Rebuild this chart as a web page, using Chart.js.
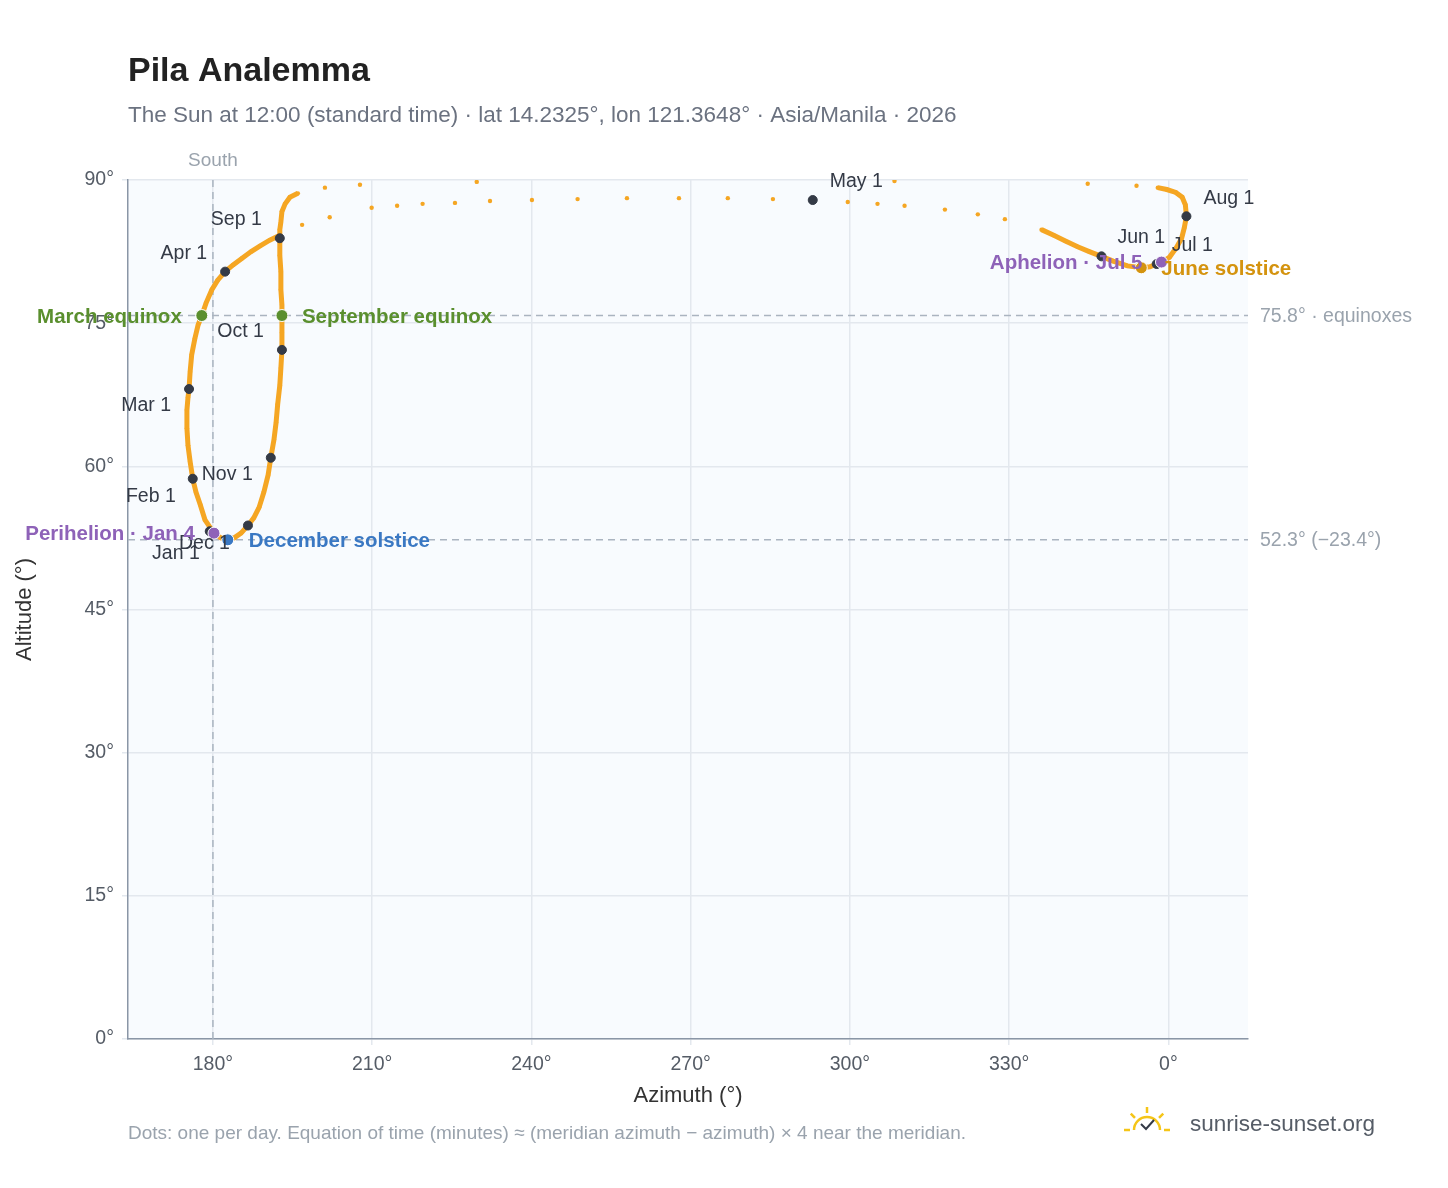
<!DOCTYPE html>
<html>
<head>
<meta charset="utf-8">
<script src="https://cdn.jsdelivr.net/npm/chart.js@4/dist/chart.umd.min.js"></script>
<style>
body { margin: 0; background: #fff; }
#wrap { width: 1448px; height: 1188px; }
</style>
</head>
<body>
<div id="wrap"><canvas id="chartAnalemma"></canvas></div>
<script>
// sun position at 12:00 (azimuth 360 = 0°)
var pathAz = [179.4, 180.2, 178.5, 177.6, 176.8, 176.2, 175.7, 175.3, 175.1, 175.1, 175.3, 175.5, 175.7, 176.0, 176.6, 177.2, 177.9, 178.7, 179.8, 180.9,
    182.3, 183.8, 185.5, 187.2, 188.9, 190.7, 192.6, 196.8, 202.0, 209.9, 214.7, 219.5, 225.6, 232.2, 240.1, 248.7, 258.0,
    267.8, 277.0, 285.5, 293.0, 299.6, 305.2, 310.3, 317.9, 324.1, 329.2, 336.1, 338.4, 340.6, 342.9, 345.1,
    347.4, 349.6, 352.3, 354.9, 356.5, 357.8, 358.7, 360.2, 361.5, 362.5, 363.0, 363.4, 363.2, 362.6, 361.4, 359.7, 358.0, 354.0, 344.8, 308.4,
    229.7, 207.7, 201.1, 196.0, 194.5, 193.6, 193.0, 192.8, 192.6, 192.6, 192.6, 192.8, 192.8, 193.0, 193.0, 193.0, 193.0, 192.8, 192.6,
    192.2, 191.9, 191.5, 190.9, 190.4, 189.6, 188.7, 187.7, 186.6, 185.3, 184.0, 182.8, 181.5, 180.4, 179.4];
var pathAlt = [53.2, 53.0, 54.4, 56.0, 57.3, 58.7, 60.5, 62.2, 64.0, 65.9, 67.2, 68.1, 69.9, 71.7, 73.4, 74.8, 75.8, 77.1, 78.5, 79.5,
    80.4, 81.1, 81.8, 82.5, 83.1, 83.7, 84.2, 85.3, 86.1, 87.1, 87.3, 87.5, 87.6, 87.8, 87.9, 88.0, 88.1,
    88.1, 88.1, 88.0, 87.9, 87.7, 87.5, 87.3, 86.9, 86.4, 85.9, 84.8, 84.2, 83.6, 83.0, 82.5,
    82.0, 81.5, 81.0, 80.8, 80.9, 81.2, 81.4, 81.9, 82.9, 83.9, 85.0, 86.2, 87.4, 88.2, 88.7, 89.0, 89.2, 89.4, 89.6, 89.9,
    89.8, 89.5, 89.2, 88.6, 88.2, 87.5, 86.7, 85.6, 84.8, 83.9, 82.1, 80.4, 78.5, 76.9, 75.8, 74.0, 72.2, 70.3, 68.5,
    66.5, 64.6, 62.8, 60.9, 59.1, 57.3, 55.7, 54.6, 53.8, 53.0, 52.5, 52.3, 52.5, 52.9, 53.2];

var markNames = ['Jan 1', 'Feb 1', 'Mar 1', 'Apr 1', 'May 1', 'Jun 1', 'Jul 1', 'Aug 1', 'Sep 1', 'Oct 1', 'Nov 1', 'Dec 1',
    'March equinox', 'June solstice', 'September equinox', 'December solstice', 'Perihelion · Jan 4', 'Aphelion · Jul 5'];
var markAz = [179.4, 176.2, 175.5, 182.3, 293.0, 347.4, 357.8, 363.4, 192.6, 193.0, 190.9, 186.6, 177.9, 354.9, 193.0, 182.8, 180.2, 358.7];
var markAlt = [53.2, 58.7, 68.1, 80.4, 87.9, 82.0, 81.2, 86.2, 83.9, 72.2, 60.9, 53.8, 75.8, 80.8, 75.8, 52.3, 53.0, 81.4];

var xTicks = [180, 210, 240, 270, 300, 330, 360];
var yTicks = [0, 15, 30, 45, 60, 75, 90];
var equinoxAlt = 75.8;
var decSolsticeAlt = 52.3;

// label style: colour, bold, dx, dy, align
var markStyle = [
    ['#343a46', false, -10, 22, 'right'], ['#343a46', false, -17, 18, 'right'], ['#343a46', false, -18, 17, 'right'],
    ['#343a46', false, -18, -18, 'right'], ['#343a46', false, 17, -18, 'left'], ['#343a46', false, 16, -19, 'left'],
    ['#343a46', false, 15, -18, 'left'], ['#343a46', false, 17, -18, 'left'], ['#343a46', false, -18, -19, 'right'],
    ['#343a46', false, -18, -18, 'right'], ['#343a46', false, -69, 17, 'left'], ['#343a46', false, -18, 18, 'right'],
    ['#5a8f2e', true, -20, 2, 'right'], ['#d4930f', true, 20, 2, 'left'], ['#5a8f2e', true, 20, 2, 'left'],
    ['#3a78c3', true, 21, 2, 'left'], ['#8e62b8', true, -19, 1, 'right'], ['#8e62b8', true, -19, 1, 'right']
];

var orange = '#f5a623';
var FONT = 'Liberation Sans, Arial, sans-serif';

function drawAnalemma() {
    var ctx = document.getElementById('chartAnalemma');
    var pathPts = pathAz.map(function (a, i) { return {x: a, y: pathAlt[i]}; });
    var markPts = markAz.map(function (a, i) { return {x: a, y: markAlt[i]}; });
    var markColors = markStyle.map(function (s, i) { return i < 12 ? '#343a46' : s[0]; });

    var extras = {
        id: 'extras',
        beforeDatasetsDraw: function (chart) {
            var c = chart.ctx, a = chart.chartArea, xs = chart.scales.x, ys = chart.scales.y;
            c.save();
            c.setLineDash([7, 5]);
            c.strokeStyle = '#aab4c0';
            c.lineWidth = 1.5;
            [equinoxAlt, decSolsticeAlt].forEach(function (v) {
                var y = ys.getPixelForValue(v);
                c.beginPath(); c.moveTo(a.left, y); c.lineTo(a.right, y); c.stroke();
            });
            var x = xs.getPixelForValue(180);
            c.beginPath(); c.moveTo(x, a.top); c.lineTo(x, a.bottom); c.stroke();
            c.restore();
        },
        afterDraw: function (chart) {
            var c = chart.ctx, a = chart.chartArea, xs = chart.scales.x, ys = chart.scales.y;
            c.save();
            c.textBaseline = 'middle';
            c.fillStyle = '#222';
            c.font = 'bold 34px ' + FONT;
            c.fillText('Pila Analemma', 128, 72);
            c.fillStyle = '#6b7280';
            c.font = '22.5px ' + FONT;
            c.fillText('The Sun at 12:00 (standard time) · lat 14.2325°, lon 121.3648° · Asia/Manila · 2026', 128, 116);
            c.fillStyle = '#9aa3ad';
            c.font = '19px ' + FONT;
            c.fillText('Dots: one per day. Equation of time (minutes) ≈ (meridian azimuth − azimuth) × 4 near the meridian.', 128, 1134);
            c.textAlign = 'center';
            c.fillText('South', xs.getPixelForValue(180), 161);
            c.fillStyle = '#333';
            c.font = '22px ' + FONT;
            c.fillText('Azimuth (°)', (a.left + a.right) / 2, 1096);
            c.save();
            c.translate(25, (a.top + a.bottom) / 2);
            c.rotate(-Math.PI / 2);
            c.fillText('Altitude (°)', 0, 0);
            c.restore();
            c.textAlign = 'left';
            c.fillStyle = '#9aa3ad';
            c.font = '19.5px ' + FONT;
            c.fillText('75.8° · equinoxes', 1260, ys.getPixelForValue(equinoxAlt) + 1);
            c.fillText('52.3° (−23.4°)', 1260, ys.getPixelForValue(decSolsticeAlt) + 1);
            // logo
            c.fillStyle = '#555c66';
            c.font = '22.5px ' + FONT;
            c.fillText('sunrise-sunset.org', 1190, 1125);
            c.strokeStyle = '#f5c518';
            c.lineWidth = 2.5;
            c.beginPath(); c.arc(1147, 1130, 13, Math.PI, 2 * Math.PI); c.stroke();
            for (var k = 0; k < 5; k++) {
                var ang = Math.PI + k * Math.PI / 4;
                c.beginPath();
                c.moveTo(1147 + 17 * Math.cos(ang), 1130 + 17 * Math.sin(ang));
                c.lineTo(1147 + 23 * Math.cos(ang), 1130 + 23 * Math.sin(ang));
                c.stroke();
            }
            c.strokeStyle = '#343a46';
            c.lineWidth = 2;
            c.beginPath(); c.moveTo(1141, 1124); c.lineTo(1146, 1129); c.lineTo(1154, 1120); c.stroke();
            // milestone labels
            markNames.forEach(function (n, i) {
                var s = markStyle[i];
                c.fillStyle = s[0];
                c.font = (s[1] ? 'bold 20.5px ' : '19.5px ') + FONT;
                c.textAlign = s[4];
                c.fillText(n, xs.getPixelForValue(markAz[i]) + s[2], ys.getPixelForValue(markAlt[i]) + s[3]);
            });
            c.restore();
        }
    };

    var bg = {
        id: 'bg',
        beforeDraw: function (chart) {
            var c = chart.ctx, a = chart.chartArea;
            c.save();
            c.fillStyle = '#f8fbfe';
            c.fillRect(a.left, a.top, a.right - a.left, a.bottom - a.top);
            c.restore();
        }
    };

    new Chart(ctx, {
        type: 'scatter',
        data: {
            datasets: [{
                data: markPts,
                pointRadius: markNames.map(function (n, i) { return i < 12 ? 4.5 : 6; }),
                pointBackgroundColor: markColors,
                pointBorderColor: markNames.map(function (n, i) { return i < 12 ? '#343a46' : '#fff'; }),
                pointBorderWidth: 1
            }, {
                data: pathPts,
                showLine: true,
                borderWidth: 5,
                borderColor: orange,
                pointRadius: 2.2,
                pointBackgroundColor: orange,
                pointBorderWidth: 0,
                segment: {
                    borderColor: function (s) {
                        var dx = s.p1.x - s.p0.x, dy = s.p1.y - s.p0.y;
                        return Math.sqrt(dx * dx + dy * dy) > 21 ? 'transparent' : orange;
                    }
                }
            }]
        },
        options: {
            responsive: true,
            maintainAspectRatio: false,
            animation: false,
            layout: {padding: {left: 0, top: 180, right: 200, bottom: 0}},
            plugins: {legend: {display: false}, tooltip: {enabled: false}},
            scales: {
                x: {
                    min: 164, max: 375,
                    afterBuildTicks: function (axis) { axis.ticks = xTicks.map(function (v) { return {value: v}; }); },
                    afterFit: function (axis) { axis.height = 149; },
                    ticks: {
                        color: '#555c66', font: {size: 19.5, family: FONT}, padding: 8,
                        callback: function (v) { return (v % 360) + '°'; }
                    },
                    grid: {color: '#e3e8ee', lineWidth: 1.5, tickLength: 6},
                    border: {color: '#8a96a6', width: 1.5}
                },
                y: {
                    min: 0, max: 90,
                    afterBuildTicks: function (axis) { axis.ticks = yTicks.map(function (v) { return {value: v}; }); },
                    afterFit: function (axis) { axis.width = 128; },
                    ticks: {
                        color: '#555c66', font: {size: 19.5, family: FONT}, padding: 8,
                        callback: function (v) { return v + '°'; }
                    },
                    grid: {color: '#e3e8ee', lineWidth: 1.5, tickLength: 6},
                    border: {color: '#8a96a6', width: 1.5}
                }
            }
        },
        plugins: [bg, extras]
    });
}

drawAnalemma();
</script>
</body>
</html>
